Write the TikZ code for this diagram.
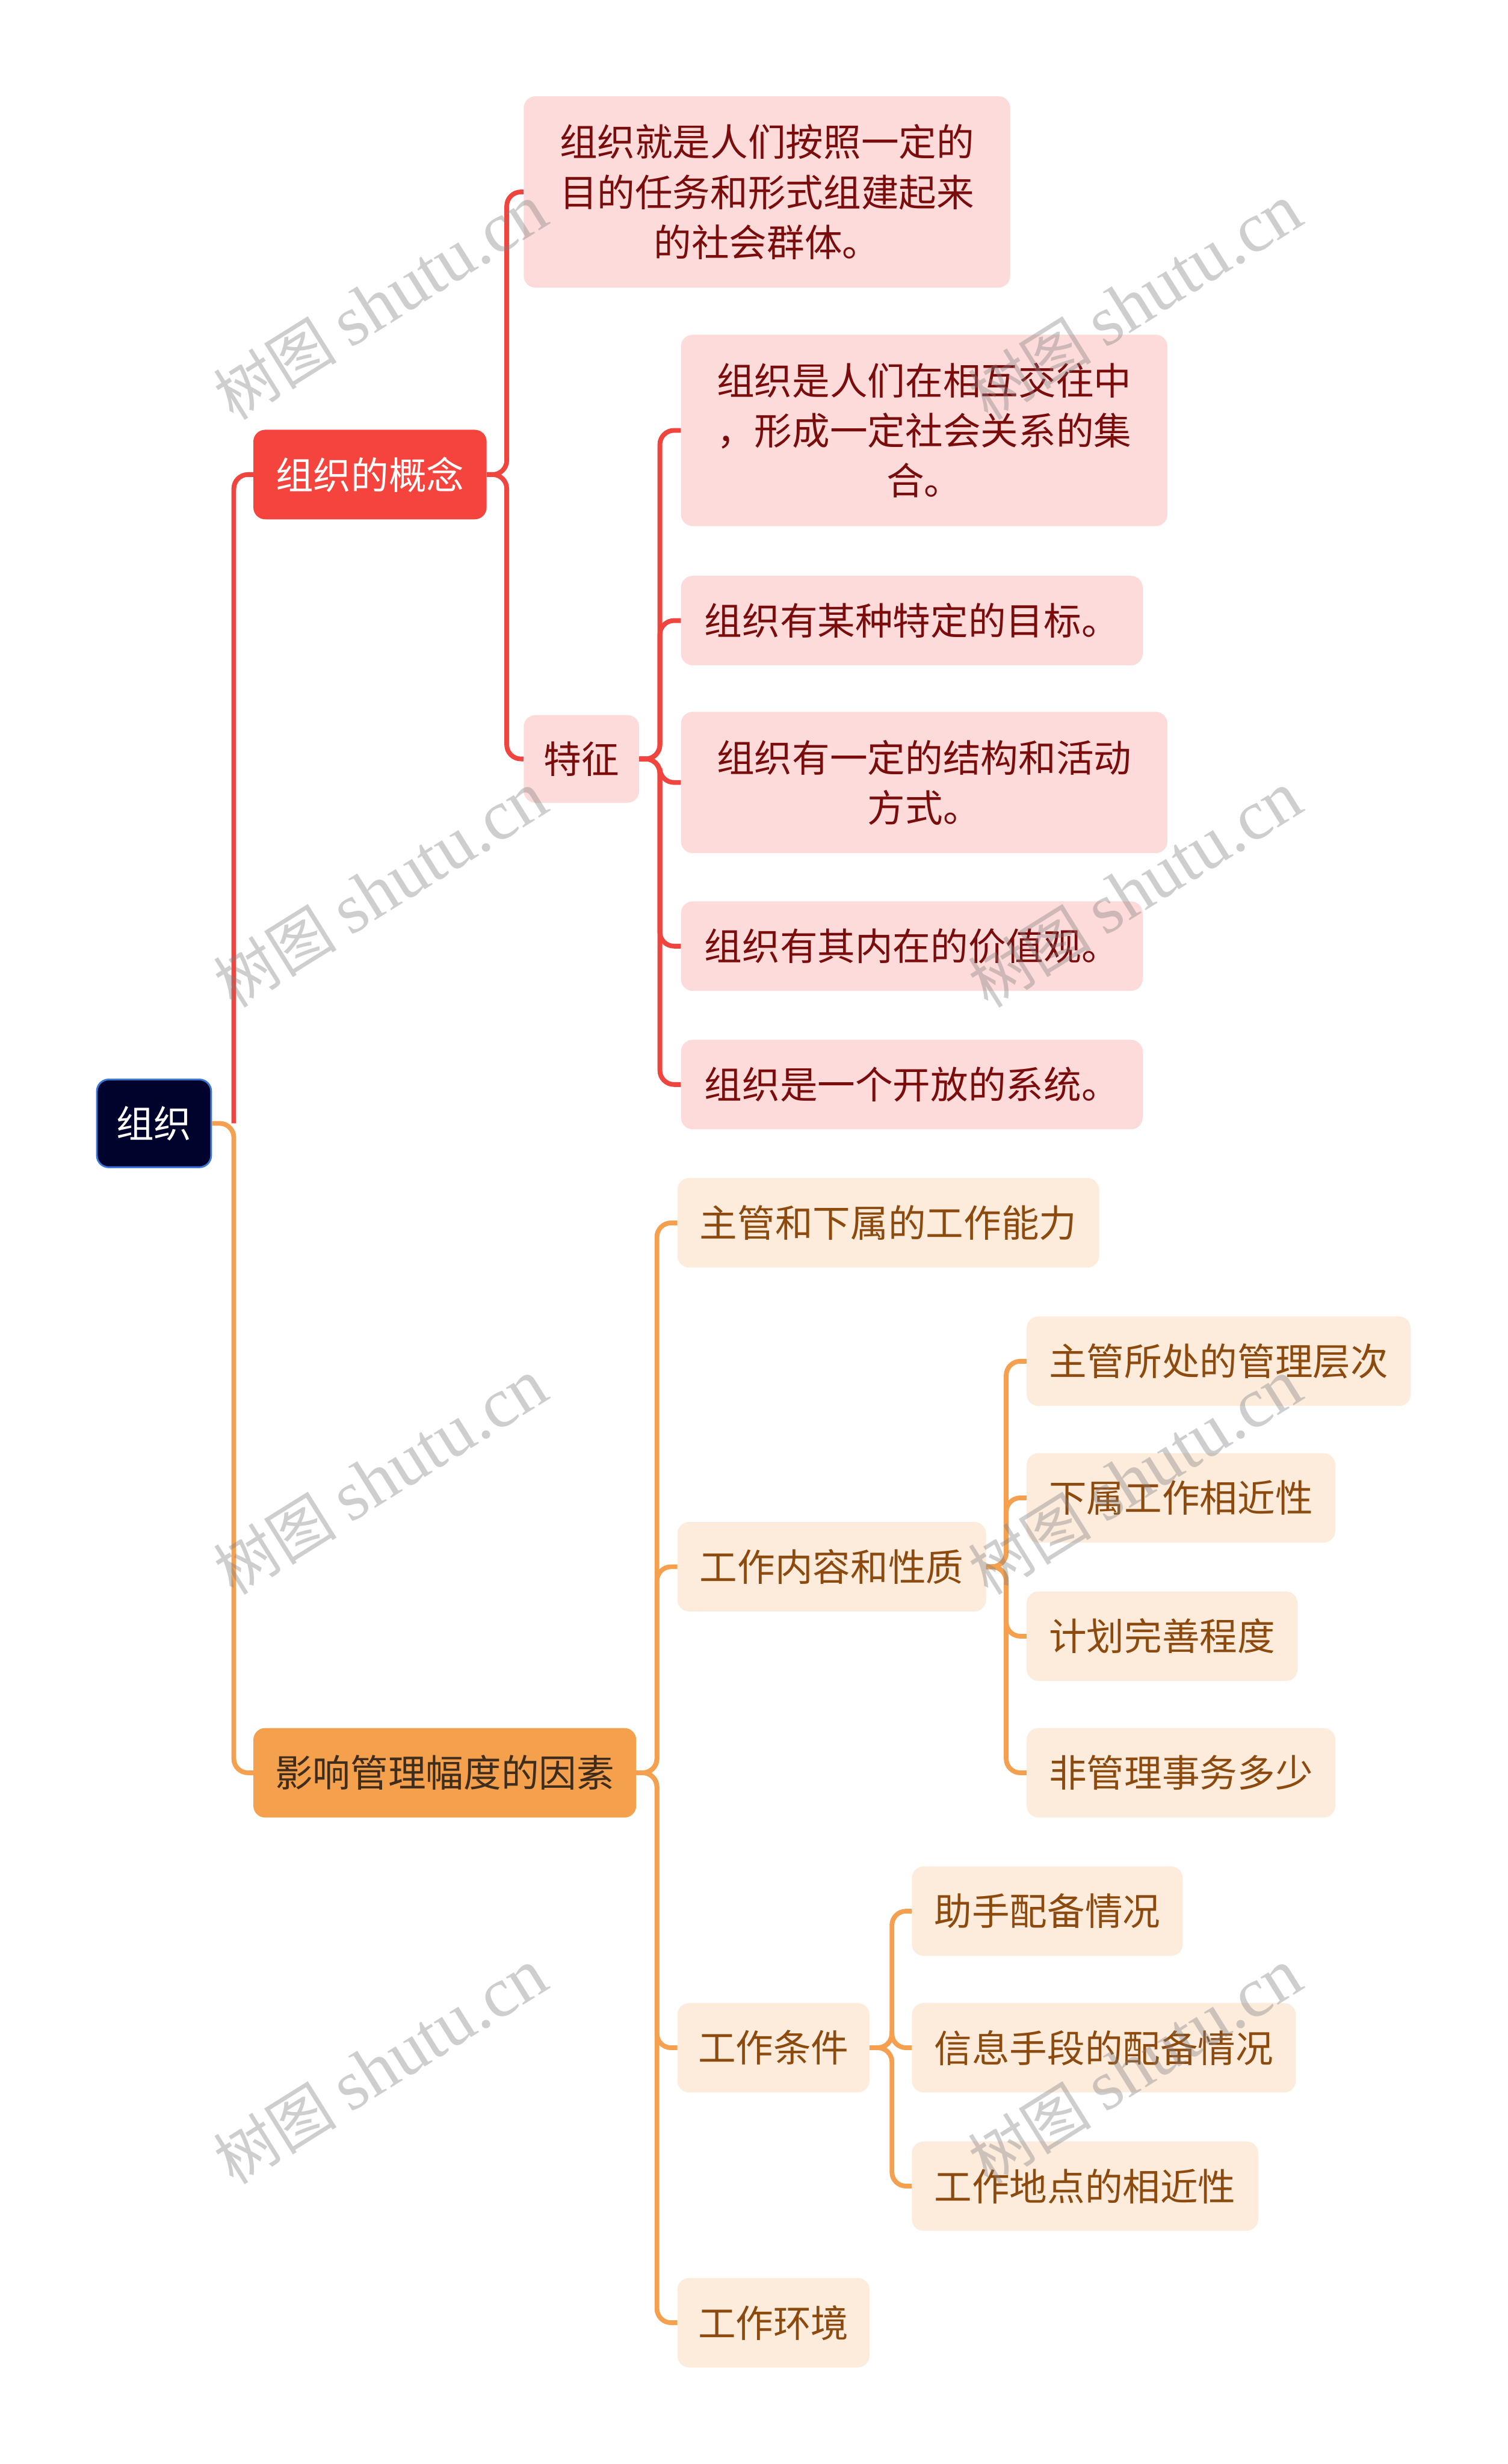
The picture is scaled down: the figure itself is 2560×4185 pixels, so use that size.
\documentclass[tikz,border=0pt]{standalone}
\usepackage{fontspec}
\newfontfamily\cjk{Noto Sans CJK SC}
\newfontfamily\wmserif{Liberation Serif}
\usepackage{tikz}
\definecolor{rootfill}{HTML}{00032B}
\definecolor{rootedge}{HTML}{3A78D8}
\definecolor{mainred}{HTML}{F5443D}
\definecolor{mainorg}{HTML}{F5A04D}
\definecolor{linered}{HTML}{F0453E}
\definecolor{lineorg}{HTML}{F4A04F}
\definecolor{leafred}{HTML}{FDDBDA}
\definecolor{leaforg}{HTML}{FDEBDC}
\definecolor{txtred}{HTML}{7A0C0C}
\definecolor{txtorg}{HTML}{8C4A0E}
\definecolor{txtdark}{HTML}{3E2C1C}

\begin{document}
\begin{tikzpicture}[x=1pt,y=-1pt,
    box/.style={rounded corners=20pt, anchor=west, minimum height=152pt,
        inner xsep=38pt, inner ysep=0pt, font=\cjk\fontsize{64}{85}\selectfont},
    redleaf/.style={box, fill=leafred, text=txtred},
    orgleaf/.style={box, fill=leaforg, text=txtorg},
    wide/.style={text width=706pt, align=center, inner xsep=60pt},
    redline/.style={draw=linered, line width=8pt, rounded corners=24pt},
    orgline/.style={draw=lineorg, line width=8pt, rounded corners=24pt},
    wm/.style={rotate=32, text=gray, opacity=0.38}]
    \useasboundingbox[fill=white] (0,0) rectangle (2560,4185);
    % root
    \node[box, fill=rootfill, draw=rootedge, line width=3pt, text=white,
        inner xsep=33pt, minimum height=149pt] (root) at (163,1908) {组织};
    % first branch
    \node[box, fill=mainred, text=white] (gainian) at (430,806) {组织的概念};
    \node[redleaf, wide, minimum height=325pt] (dingyi) at (889,326)
        {组织就是人们按照一定的\\目的任务和形式组建起来\\的社会群体。};
    \node[redleaf, inner xsep=34pt, minimum height=149pt] (tezheng) at (889,1289) {特征};
    \node[redleaf, wide, minimum height=325pt] (tz1) at (1156,731)
        {组织是人们在相互交往中\\，形成一定社会关系的集\\合。};
    \node[redleaf, inner xsep=40pt] (tz2) at (1156,1054) {组织有某种特定的目标。};
    \node[redleaf, wide, minimum height=240pt] (tz3) at (1156,1329)
        {组织有一定的结构和活动\\方式。};
    \node[redleaf, inner xsep=40pt] (tz4) at (1156,1607) {组织有其内在的价值观。};
    \node[redleaf, inner xsep=40pt] (tz5) at (1156,1842) {组织是一个开放的系统。};
    % second branch
    \node[box, fill=mainorg, text=txtdark, inner xsep=37pt] (yinsu) at (430,3011) {影响管理幅度的因素};
    \node[orgleaf] (nengli) at (1150,2077) {主管和下属的工作能力};
    \node[orgleaf] (neirong) at (1150,2661) {工作内容和性质};
    \node[orgleaf] (nr1) at (1743,2312) {主管所处的管理层次};
    \node[orgleaf] (nr2) at (1743,2544) {下属工作相近性};
    \node[orgleaf] (nr3) at (1743,2779) {计划完善程度};
    \node[orgleaf] (nr4) at (1743,3011) {非管理事务多少};
    \node[orgleaf, inner xsep=35pt] (tiaojian) at (1150,3478) {工作条件};
    \node[orgleaf] (tj1) at (1548,3246) {助手配备情况};
    \node[orgleaf] (tj2) at (1548,3478) {信息手段的配备情况};
    \node[orgleaf] (tj3) at (1548,3713) {工作地点的相近性};
    \node[orgleaf, inner xsep=35pt] (huanjing) at (1150,3945) {工作环境};
    % connectors
    \draw[orgline] (root.east) -- ++(37,0) |- (yinsu.west);
    \draw[redline] (root.east) ++(37,0) |- (gainian.west);
    \foreach \c in {dingyi,tezheng}
        \draw[redline] (gainian.east) -- ++(34,0) |- (\c.west);
    \foreach \c in {tz1,tz2,tz3,tz4,tz5}
        \draw[redline] (tezheng.east) -- ++(35,0) |- (\c.west);
    \foreach \c in {nengli,neirong,tiaojian,huanjing}
        \draw[orgline] (yinsu.east) -- ++(35,0) |- (\c.west);
    \foreach \c in {nr1,nr2,nr3,nr4}
        \draw[orgline] (neirong.east) -- ++(34,0) |- (\c.west);
    \foreach \c in {tj1,tj2,tj3}
        \draw[orgline] (tiaojian.east) -- ++(38,0) |- (\c.west);
    % watermarks
    \foreach \wx in {646,1927}
        \foreach \wy in {513,1511,2509,3510}
            \node[wm] at (\wx,\wy) {\cjk\fontsize{105}{105}\selectfont 树图
                \wmserif\fontsize{120}{120}\selectfont shutu.cn};
\end{tikzpicture}
\end{document}
